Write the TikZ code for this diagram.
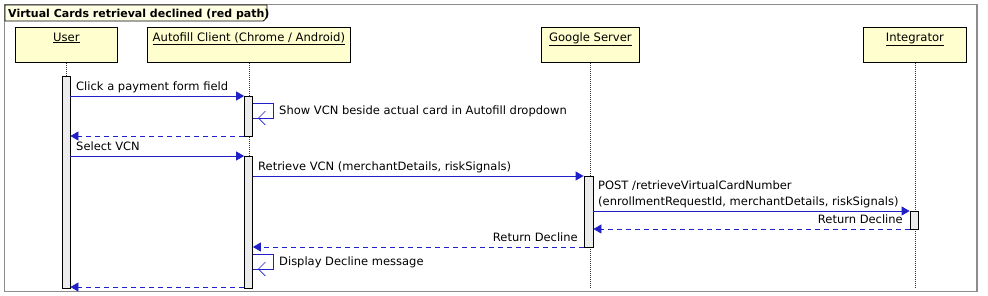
\documentclass[tikz,border=0pt]{standalone}
\usepackage{fontspec}
\setmainfont{DejaVu Sans}
\usetikzlibrary{arrows.meta}
\definecolor{msgblue}{RGB}{32,32,200}
\definecolor{boxfill}{RGB}{254,254,206}
\definecolor{tabfill}{RGB}{255,255,228}
\definecolor{barfill}{RGB}{236,236,236}
\definecolor{framegray}{RGB}{140,140,140}
\tikzset{
  partbox/.style={draw=black, fill=boxfill, line width=0.8pt},
  actbar/.style={draw=black, fill=barfill, line width=0.8pt, minimum width=8pt, inner sep=0pt, anchor=north},
  lifeline/.style={draw=black!80, line width=0.5pt, dash pattern=on 1pt off 1pt},
  msg/.style={draw=msgblue, line width=0.8pt, -{Triangle[length=8pt,width=9pt]}},
  retmsg/.style={draw=msgblue, line width=0.8pt, dash pattern=on 5pt off 4pt, -{Triangle[length=8pt,width=9pt]}},
  selfmsg/.style={draw=msgblue, line width=0.8pt},
  openhead/.style={draw=msgblue, line width=0.6pt, -{Straight Barb[length=7pt,width=14pt]}},
  lbl/.style={font=\fontsize{11.5}{13}\selectfont, inner sep=0pt},
  pname/.style={font=\fontsize{11.6}{13}\selectfont, inner sep=0pt, anchor=base},
}
\begin{document}
\begin{tikzpicture}[x=1pt,y=-1pt]
\useasboundingbox (0,0) rectangle (988,295);
% frame
\draw[framegray, line width=1.6pt] (4.5,4.5) rectangle (977,291.5);
\draw[black, fill=tabfill, line width=0.8pt] (5,5) -- (267,5) -- (267,17) to[out=90,in=0] (263,21) -- (5,21) -- cycle;
\node[lbl, anchor=base west, font=\fontsize{11}{13}\selectfont\bfseries] (title) at (8,17) {Virtual Cards retrieval declined (red path)};
% participants
\node[partbox, minimum width=102pt, minimum height=35pt, anchor=north west, inner sep=0pt] (user) at (15,27) {};
\node[partbox, minimum width=203pt, minimum height=35pt, anchor=north west, inner sep=0pt] (client) at (147,27) {};
\node[partbox, minimum width=98pt, minimum height=35pt, anchor=north west, inner sep=0pt] (server) at (541,27) {};
\node[partbox, minimum width=103pt, minimum height=35pt, anchor=north west, inner sep=0pt] (integ) at (863,27) {};
\node[pname] at (user.north |- 0,41) {\underline{User}};
\node[pname] at (client.north |- 0,41) {\underline{Autofill Client (Chrome / Android)}};
\node[pname] at (server.north |- 0,41) {\underline{Google Server}};
\node[pname] at (integ.north |- 0,41) {\underline{Integrator}};
% lifelines
\coordinate (bot) at (0,288);
\draw[lifeline] (user.south) -- (user.south |- bot);
\draw[lifeline] (client.south) -- (client.south |- bot);
\draw[lifeline] (server.south) -- (server.south |- bot);
\draw[lifeline] (integ.south) -- (integ.south |- bot);
% activation bars
\node[actbar, minimum height=212pt] (ub) at (66,76) {};
\node[actbar, minimum height=40pt] (cb1) at (248.5,96) {};
\node[actbar, minimum height=132pt] (cb2) at (248.5,156) {};
\node[actbar, minimum height=71pt, minimum width=9pt] (sb) at (588.5,176) {};
\node[actbar, minimum height=18pt] (ib) at (914,211) {};
% message y positions
\coordinate (y1) at (0,96);
\coordinate (y2a) at (0,103);
\coordinate (y2b) at (0,118);
\coordinate (y3) at (0,136);
\coordinate (y4) at (0,156);
\coordinate (y5) at (0,176);
\coordinate (y6) at (0,211);
\coordinate (y7) at (0,229);
\coordinate (y8) at (0,247);
\coordinate (y9a) at (0,254);
\coordinate (y9b) at (0,269);
\coordinate (y10) at (0,287);
% 1
\draw[msg] (ub.east |- y1) -- (cb1.west |- y1);
\node[lbl, anchor=base west] (m1) at (76,90) {Click a payment form field};
% 2 self
\coordinate (s1r) at (273,0);
\coordinate (s1t) at (258,0);
\draw[selfmsg] (cb1.east |- y2a) -- (s1r |- y2a) -- (s1r |- y2b) -- (cb1.east |- y2b);
\draw[openhead] (s1r |- y2b) -- (s1t |- y2b);
\node[lbl, anchor=base west] (m2) at (279,114) {Show VCN beside actual card in Autofill dropdown};
% 3
\draw[retmsg] (cb1.west |- y3) -- (ub.east |- y3);
% 4
\draw[msg] (ub.east |- y4) -- (cb2.west |- y4);
\node[lbl, anchor=base west] (m4) at (76,150) {Select VCN};
% 5
\draw[msg] (cb2.east |- y5) -- (sb.west |- y5);
\node[lbl, anchor=base west] (m5) at (258,170) {Retrieve VCN (merchantDetails, riskSignals)};
% 6
\draw[msg] (sb.east |- y6) -- (ib.west |- y6);
\node[lbl, anchor=base west] (m6a) at (598,189) {POST /retrieveVirtualCardNumber};
\node[lbl, anchor=base west] (m6b) at (598,205) {(enrollmentRequestId, merchantDetails, riskSignals)};
% 7
\draw[retmsg] (ib.west |- y7) -- (sb.east |- y7);
\node[lbl, anchor=base east] (m7) at (903,223) {Return Decline};
% 8
\draw[retmsg] (sb.west |- y8) -- (cb2.east |- y8);
\node[lbl, anchor=base east] (m8) at (578,241) {Return Decline};
% 9 self
\draw[selfmsg] (cb2.east |- y9a) -- (s1r |- y9a) -- (s1r |- y9b) -- (cb2.east |- y9b);
\draw[openhead] (s1r |- y9b) -- (s1t |- y9b);
\node[lbl, anchor=base west] (m9) at (279,265) {Display Decline message};
% 10
\draw[retmsg] (cb2.west |- y10) -- (ub.east |- y10);
\end{tikzpicture}
\end{document}
